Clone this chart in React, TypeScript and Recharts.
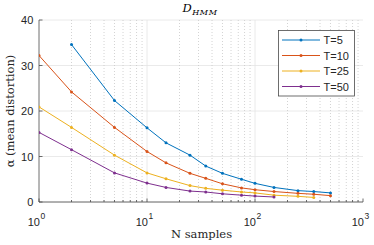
import React from 'react';
import { LineChart, Line, XAxis, YAxis, CartesianGrid } from 'recharts';

const W = 374;
const H = 245;

const seriesNames = ['T=5', 'T=10', 'T=25', 'T=50'];
const seriesColors = ['#0072BD', '#D95319', '#EDB120', '#7E2F8E'];

const nT5 = [2, 5, 10, 15, 25, 35, 50, 75, 100, 150, 250, 350, 500];
const aT5 = [34.6, 22.3, 16.3, 13.0, 10.3, 7.9, 6.3, 5.0, 4.1, 3.2, 2.5, 2.3, 2.0];
const nT10 = [1, 2, 5, 10, 15, 25, 35, 50, 75, 100, 150, 250, 350, 500];
const aT10 = [32.2, 24.2, 16.4, 11.1, 8.6, 6.3, 5.2, 4.0, 3.1, 2.7, 2.3, 1.9, 1.7, 1.4];
const nT25 = [1, 2, 5, 10, 15, 25, 35, 50, 75, 100, 150, 250, 350];
const aT25 = [20.9, 16.4, 10.3, 6.4, 5.1, 3.6, 3.0, 2.6, 2.2, 2.0, 1.5, 1.25, 1.0];
const nT50 = [1, 2, 5, 10, 15, 25, 35, 50, 75, 100, 150];
const aT50 = [15.3, 11.5, 6.4, 4.15, 3.2, 2.4, 2.2, 1.8, 1.5, 1.3, 1.1];

const xMajorTicks = [1, 10, 100, 1000];
const xMinorTicks = [2, 3, 4, 5, 6, 7, 8, 9, 20, 30, 40, 50, 60, 70, 80, 90, 200, 300, 400, 500, 600, 700, 800, 900];
const yTicks = [0, 10, 20, 30, 40];

const titleMain = 'D';
const titleSub = 'HMM';
const xLabel = 'N samples';
const yLabel = 'α (mean distortion)';

const toRows = (ns: number[], as: number[]) => ns.map((n, i) => ({ n, a: as[i] }));
const seriesData = [toRows(nT5, aT5), toRows(nT10, aT10), toRows(nT25, aT25), toRows(nT50, aT50)];

const AXIS = '#262626';
const AXIS_LINE = '#4a4a4a';
const SANS = '"Liberation Sans", Arial, sans-serif';
const SERIF = '"DejaVu Serif", serif';
const allXTicks = [...xMajorTicks, ...xMinorTicks].sort((a, b) => a - b);
const isMajor = (v: number) => xMajorTicks.includes(v);

const BottomTick = (p: any) => {
  const { x, y, payload } = p;
  const v = payload.value;
  const major = isMajor(v);
  const len = major ? 3.5 : 2;
  return (
    <g>
      <line x1={x} x2={x} y1={y} y2={y - len} stroke={AXIS_LINE} strokeWidth={0.8} />
      {major && (
        <text x={x + 1} y={y + 23.5} textAnchor="end" fontFamily={SANS} fontSize={11} fill={AXIS}>
          10
        </text>
      )}
      {major && (
        <text x={x + 1.5} y={y + 16.5} textAnchor="start" fontFamily={SANS} fontSize={8.5} fill={AXIS}>
          {Math.round(Math.log10(v))}
        </text>
      )}
    </g>
  );
};

const TopTick = (p: any) => {
  const { x, y, payload } = p;
  const len = isMajor(payload.value) ? 3.5 : 2;
  return <line x1={x} x2={x} y1={y} y2={y + len} stroke={AXIS_LINE} strokeWidth={0.8} />;
};

const LeftTick = (p: any) => {
  const { x, y, payload } = p;
  return (
    <g>
      <line x1={x} x2={x + 3.5} y1={y} y2={y} stroke={AXIS_LINE} strokeWidth={0.8} />
      <text x={x - 5.7} y={y + 4} textAnchor="end" fontFamily={SANS} fontSize={11} fill={AXIS}>
        {payload.value}
      </text>
    </g>
  );
};

const RightTick = (p: any) => {
  const { x, y } = p;
  return <line x1={x} x2={x - 3.5} y1={y} y2={y} stroke={AXIS_LINE} strokeWidth={0.8} />;
};

const axisLineStyle = { stroke: AXIS_LINE, strokeWidth: 0.8 };

export default function App() {
  const legendRowY = [40, 55.5, 71, 86.5];
  return (
    <div style={{ position: 'absolute', left: 0, top: 0, width: W, height: H, background: '#fff' }}>
      <LineChart width={W} height={H} margin={{ top: 20, right: 11, left: 0, bottom: 0 }}>
        <CartesianGrid vertical={false} stroke="#e4e4e4" strokeWidth={0.8} />
        <CartesianGrid horizontal={false} verticalValues={[10, 100]} stroke="#e4e4e4" strokeWidth={0.8} />
        <CartesianGrid horizontal={false} verticalValues={xMinorTicks} stroke="#c8c8c8" strokeWidth={0.8} strokeDasharray="1 2" />
        <XAxis
          dataKey="n"
          type="number"
          scale="log"
          domain={[1, 1000]}
          allowDataOverflow
          ticks={allXTicks}
          interval={0}
          tickSize={0}
          tickMargin={0}
          tickLine={false}
          tick={BottomTick}
          height={43}
          axisLine={axisLineStyle}
        />
        <XAxis
          xAxisId="t"
          orientation="top"
          dataKey="n"
          type="number"
          scale="log"
          domain={[1, 1000]}
          allowDataOverflow
          ticks={allXTicks}
          interval={0}
          tickSize={0}
          tickMargin={0}
          tickLine={false}
          tick={TopTick}
          height={0}
          axisLine={axisLineStyle}
        />
        <YAxis
          type="number"
          domain={[0, 40]}
          allowDataOverflow
          ticks={yTicks}
          interval={0}
          tickSize={0}
          tickMargin={0}
          tickLine={false}
          tick={LeftTick}
          width={39}
          axisLine={axisLineStyle}
        />
        <YAxis
          yAxisId="r"
          orientation="right"
          type="number"
          domain={[0, 40]}
          allowDataOverflow
          ticks={yTicks}
          interval={0}
          tickSize={0}
          tickMargin={0}
          tickLine={false}
          tick={RightTick}
          width={0}
          axisLine={axisLineStyle}
        />
        {seriesData.map((rows, i) => (
          <Line
            key={seriesNames[i]}
            name={seriesNames[i]}
            data={rows}
            dataKey="a"
            type="linear"
            stroke={seriesColors[i]}
            strokeWidth={1}
            dot={{ r: 1.5, fill: seriesColors[i], stroke: 'none' }}
            activeDot={false}
            isAnimationActive={false}
          />
        ))}
      </LineChart>
      <svg
        width={W}
        height={H}
        style={{ position: 'absolute', left: 0, top: 0, pointerEvents: 'none' }}
      >
        <text x={182.5} y={11.5} fontFamily={SERIF} fontStyle="italic" fontSize={11.5} fill="#000">
          {titleMain}
        </text>
        <text x={192.3} y={14.8} fontFamily={SERIF} fontStyle="italic" fontSize={8} fill="#000" letterSpacing={0.6}>
          {titleSub}
        </text>
        <text x={201.5} y={237.5} textAnchor="middle" fontFamily={SERIF} fontSize={11.5} fill={AXIS}>
          {xLabel}
        </text>
        <text
          x={14}
          y={111}
          textAnchor="middle"
          fontFamily={SERIF}
          fontSize={11.5}
          fill={AXIS}
          transform="rotate(-90 14 111)"
        >
          {yLabel}
        </text>
        <rect x={278.5} y={30.5} width={76} height={65.5} fill="#fff" stroke={AXIS_LINE} strokeWidth={0.8} />
        {seriesNames.map((name, i) => (
          <g key={name}>
            <line x1={282} x2={320} y1={legendRowY[i]} y2={legendRowY[i]} stroke={seriesColors[i]} strokeWidth={1} />
            <circle cx={301} cy={legendRowY[i]} r={1.5} fill={seriesColors[i]} />
            <text x={323.5} y={legendRowY[i] + 4} fontFamily={SANS} fontSize={11} fill={AXIS}>
              {name}
            </text>
          </g>
        ))}
      </svg>
    </div>
  );
}
